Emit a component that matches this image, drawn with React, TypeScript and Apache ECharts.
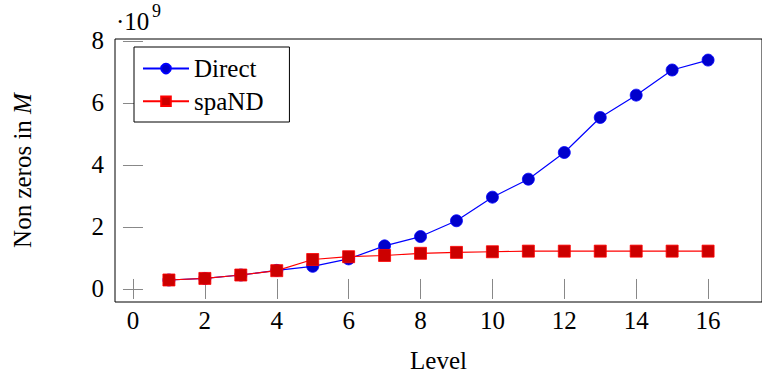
import React, { useEffect, useRef } from "react";
import * as echarts from "echarts";

const levels = [1, 2, 3, 4, 5, 6, 7, 8, 9, 10, 11, 12, 13, 14, 15, 16];
const directValues = [0.29, 0.34, 0.45, 0.6, 0.73, 0.97, 1.39, 1.69, 2.2, 2.96, 3.54, 4.4, 5.53, 6.25, 7.06, 7.38];
const spandValues = [0.29, 0.34, 0.45, 0.59, 0.95, 1.04, 1.08, 1.15, 1.18, 1.2, 1.22, 1.22, 1.22, 1.22, 1.22, 1.22];
const xTicks = [0, 2, 4, 6, 8, 10, 12, 14, 16];
const yTicks = [0, 2, 4, 6, 8];
const seriesNames = ["Direct", "spaND"];

const FONT = "Liberation Serif";
const FS = 25;

export default function App() {
  const ref = useRef<HTMLDivElement>(null);
  useEffect(() => {
    if (!ref.current) return;
    const chart = echarts.init(ref.current, null, { renderer: "svg" });
    const tickStyle = { color: "#888", width: 1 };
    const labelStyle = { fontFamily: FONT, fontSize: FS, color: "#000" };
    chart.setOption({
      animation: false,
      backgroundColor: "#fff",
      grid: {
        left: 115,
        right: 0,
        top: 39,
        bottom: 73,
        show: true,
        borderColor: "#000",
        borderWidth: 1,
        backgroundColor: "transparent",
        containLabel: false,
        outerBoundsMode: "none",
      },
      legend: {
        left: 134,
        top: 47,
        orient: "vertical",
        data: seriesNames,
        itemWidth: 46,
        itemHeight: 12,
        itemGap: 7.7,
        padding: [9.1, 26, 8.2, 8],
        borderColor: "#000",
        borderWidth: 1,
        backgroundColor: "#fff",
        textStyle: { ...labelStyle, lineHeight: 25 },
      },
      xAxis: [
        {
          type: "value",
          min: -0.5,
          max: 17.5,
          position: "bottom",
          axisLine: { show: false },
          axisTick: { show: true, inside: true, length: 10, lineStyle: tickStyle, customValues: xTicks },
          axisLabel: { ...labelStyle, margin: 6, customValues: xTicks },
          splitLine: { show: false },
          name: "Level",
          nameLocation: "middle",
          nameGap: 46,
          nameTextStyle: labelStyle,
        },
        {
          type: "value",
          min: -0.5,
          max: 17.5,
          position: "top",
          axisLine: { show: false },
          axisTick: { show: true, inside: true, length: 10, lineStyle: tickStyle, customValues: xTicks },
          axisLabel: { show: false },
          splitLine: { show: false },
        },
      ],
      yAxis: [
        {
          type: "value",
          min: -0.42,
          max: 8.06,
          position: "left",
          axisLine: { show: false },
          axisTick: { show: true, inside: true, length: 10, lineStyle: tickStyle, customValues: yTicks },
          axisLabel: { ...labelStyle, margin: 11, customValues: yTicks },
          splitLine: { show: false },
          name: "{a|Non zeros in }{b|M}",
          nameLocation: "middle",
          nameGap: 80,
          nameRotate: 90,
          nameTextStyle: {
            ...labelStyle,
            rich: {
              a: { fontFamily: FONT, fontSize: FS, color: "#000" },
              b: { fontFamily: FONT, fontSize: FS, color: "#000", fontStyle: "italic" },
            },
          },
        },
        {
          type: "value",
          min: -0.42,
          max: 8.06,
          position: "right",
          axisLine: { show: false },
          axisTick: { show: true, inside: true, length: 10, lineStyle: tickStyle, customValues: yTicks },
          axisLabel: { show: false },
          splitLine: { show: false },
        },
      ],
      graphic: [
        {
          type: "text",
          left: 116,
          top: 9,
          style: { text: "·10", fontFamily: FONT, fontSize: FS, fill: "#000" },
        },
        {
          type: "text",
          left: 152,
          top: 2,
          style: { text: "9", fontFamily: FONT, fontSize: 18, fill: "#000" },
        },
      ],
      series: [
        {
          name: seriesNames[0],
          type: "line",
          data: levels.map((l, i) => [l, directValues[i]]),
          symbol: "circle",
          symbolSize: 12,
          lineStyle: { color: "#0000ff", width: 1.2 },
          itemStyle: { color: "#0000cc", borderColor: "#0000ff", borderWidth: 0.8 },
          z: 2,
        },
        {
          name: seriesNames[1],
          type: "line",
          data: levels.map((l, i) => [l, spandValues[i]]),
          symbol: "rect",
          symbolSize: 12,
          lineStyle: { color: "#ff0000", width: 1.2 },
          itemStyle: { color: "#cc0000", borderColor: "#ff0000", borderWidth: 0.8 },
          z: 3,
        },
      ],
    });
    return () => chart.dispose();
  }, []);
  return (
    <div
      ref={ref}
      style={{ position: "fixed", left: 0, top: 0, width: 762, height: 375, background: "#fff" }}
    />
  );
}
